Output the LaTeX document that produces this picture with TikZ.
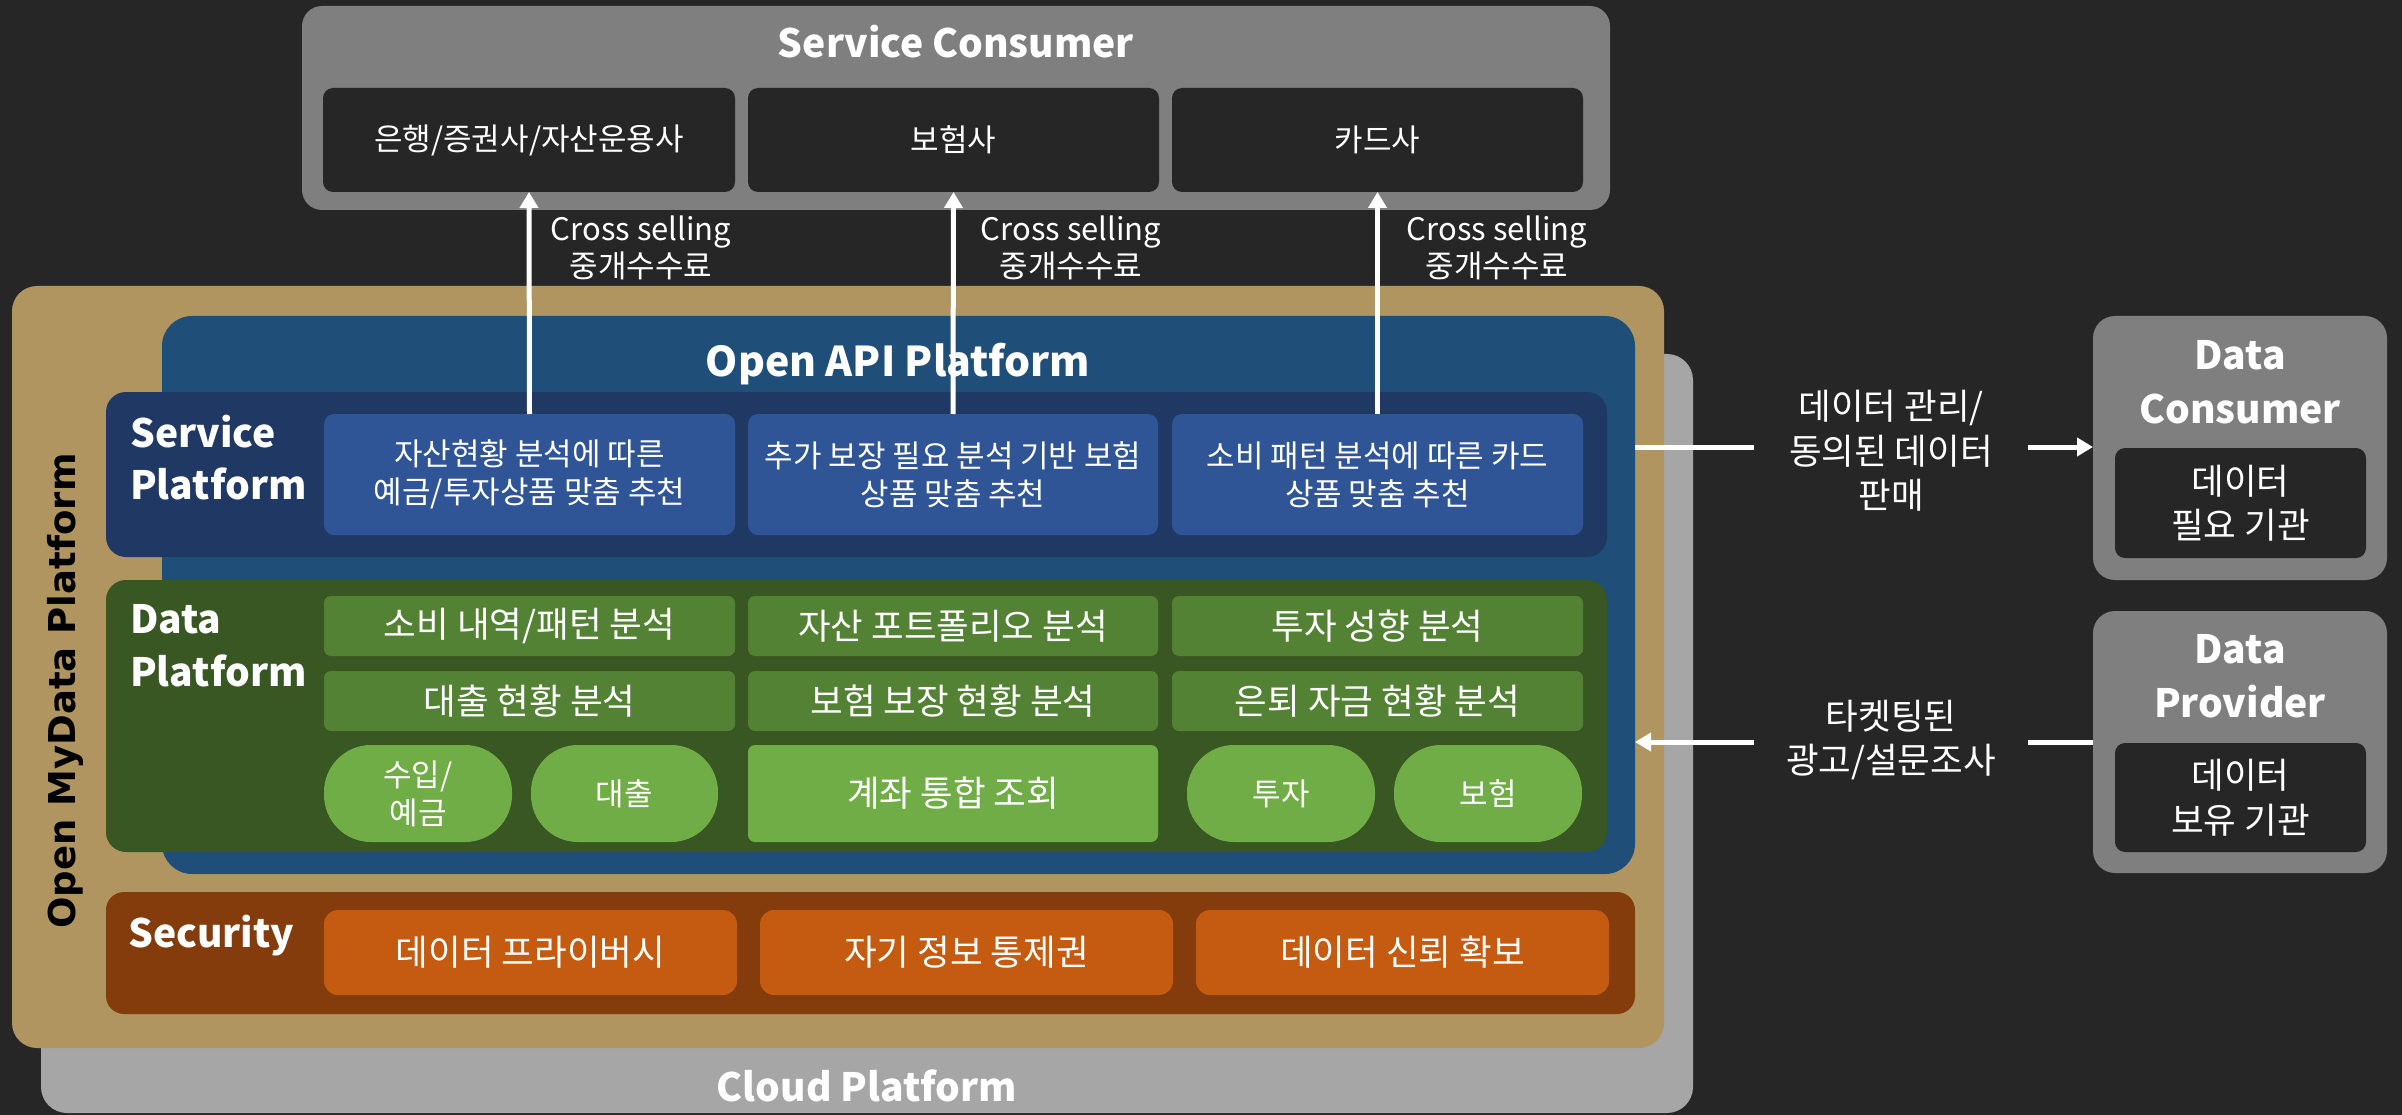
\documentclass[tikz,border=0pt]{standalone}
\usepackage{fontspec}
\setmainfont{Noto Sans CJK KR}
\newfontfamily\vfont{DejaVu Sans}
\usetikzlibrary{fit,arrows.meta}

\definecolor{bg}{HTML}{262626}
\definecolor{grayseven}{HTML}{7F7F7F}
\definecolor{cloudgray}{HTML}{A6A6A6}
\definecolor{gold}{HTML}{B09560}
\definecolor{apiblue}{HTML}{1F4E79}
\definecolor{svcdark}{HTML}{203864}
\definecolor{svcbox}{HTML}{2F5597}
\definecolor{datadark}{HTML}{385723}
\definecolor{datarow}{HTML}{548235}
\definecolor{datapill}{HTML}{70AD47}
\definecolor{secdark}{HTML}{843C0C}
\definecolor{secbox}{HTML}{C55A11}

\tikzset{
  panel/.style={inner sep=0pt, outer sep=0pt, rounded corners=20pt},
  small/.style={text=white, align=center, inner sep=0pt, font=\fontsize{31}{38}\selectfont},
  big/.style={text=white, align=center, inner sep=0pt, font=\fontsize{35.5}{44.5}\selectfont},
  ttl/.style={text=white, font=\bfseries\fontsize{39}{48}\selectfont, inner sep=0pt},
  conn/.style={white, line width=5pt, -{Triangle[width=18pt,length=16pt]}},
  plain/.style={white, line width=5pt},
}

% filled rounded box spanning two corners, with its caption centred on it
% #1 name, #2 fill, #3 corner radius, #4 corners, #5 text style, #6 text
\newcommand\tbox[6]{%
  \node[panel, rounded corners=#3, fill=#2, fit={#4}] (#1) {};
  \node[#5] (#1t) at (#1.center) {#6};}

\begin{document}
\begin{tikzpicture}[x=1pt,y=-1pt]
\fill[bg] (0,0) rectangle (2402,1115);
\useasboundingbox (0,0) rectangle (2402,1115);

% ---- layered platform stack ----
\node[panel, rounded corners=26pt, fill=cloudgray, fit={(41,354) (1693,1113)}] (cloud) {};
\node[ttl, anchor=base] (cloudT) at (867,1101) {Cloud Platform};

\node[panel, rounded corners=25pt, fill=gold, fit={(12,286) (1664,1048)}] (mydata) {};
\node[rotate=90, anchor=base, inner sep=0pt, text=black,
      font=\vfont\bfseries\fontsize{37}{44}\selectfont] (mydataT) at (75,691) {Open MyData Platform};

\node[panel, rounded corners=30pt, fill=apiblue, fit={(162,316) (1635,874)}] (api) {};
\node[ttl, font=\bfseries\fontsize{41}{48}\selectfont, anchor=base] (apiT) at (898,376) {Open API Platform};

% service platform
\node[panel, fill=svcdark, fit={(106,392) (1607,557)}] (svc) {};
\node[ttl, anchor=base west] (svcT1) at (130,447) {Service};
\node[ttl, anchor=base west] (svcT2) at (130,499) {Platform};
\tbox{s1}{svcbox}{10pt}{(324,414) (735,535)}{small}{자산현황 분석에 따른\\예금/투자상품 맞춤 추천}
\tbox{s2}{svcbox}{10pt}{(748,414) (1158,535)}{small}{추가 보장 필요 분석 기반 보험\\상품 맞춤 추천}
\tbox{s3}{svcbox}{10pt}{(1172,414) (1583,535)}{small}{소비 패턴 분석에 따른 카드\\상품 맞춤 추천}

% data platform
\node[panel, fill=datadark, fit={(106,580) (1607,852)}] (data) {};
\node[ttl, anchor=base west] (dataT1) at (130,633) {Data};
\node[ttl, anchor=base west] (dataT2) at (130,686) {Platform};
\tbox{d11}{datarow}{7pt}{(324,596) (735,656)}{big}{소비 내역/패턴 분석}
\tbox{d12}{datarow}{7pt}{(748,596) (1158,656)}{big}{자산 포트폴리오 분석}
\tbox{d13}{datarow}{7pt}{(1172,596) (1583,656)}{big}{투자 성향 분석}
\tbox{d21}{datarow}{7pt}{(324,671) (735,731)}{big}{대출 현황 분석}
\tbox{d22}{datarow}{7pt}{(748,671) (1158,731)}{big}{보험 보장 현황 분석}
\tbox{d23}{datarow}{7pt}{(1172,671) (1583,731)}{big}{은퇴 자금 현황 분석}
\tbox{p1}{datapill}{47pt}{(324,745) (512,842)}{small}{수입/\\예금}
\tbox{p2}{datapill}{47pt}{(531,745) (718,842)}{small}{대출}
\tbox{acct}{datapill}{7pt}{(748,745) (1158,842)}{big}{계좌 통합 조회}
\tbox{p3}{datapill}{47pt}{(1187,745) (1375,842)}{small}{투자}
\tbox{p4}{datapill}{47pt}{(1394,745) (1582,842)}{small}{보험}

% security
\node[panel, rounded corners=18pt, fill=secdark, fit={(106,892) (1635,1014)}] (sec) {};
\node[ttl, anchor=base west] (secT) at (128,947) {Security};
\tbox{e1}{secbox}{14pt}{(324,910) (737,995)}{big}{데이터 프라이버시}
\tbox{e2}{secbox}{14pt}{(760,910) (1173,995)}{big}{자기 정보 통제권}
\tbox{e3}{secbox}{14pt}{(1196,910) (1609,995)}{big}{데이터 신뢰 확보}

% ---- service consumer ----
\node[panel, fill=grayseven, fit={(302,6) (1610,210)}] (sc) {};
\node[ttl, anchor=base] (scT) at (956,58) {Service Consumer};
\tbox{c1}{bg}{10pt}{(323,88) (735,192)}{small}{은행/증권사/자산운용사}
\tbox{c2}{bg}{10pt}{(748,88) (1159,192)}{small}{보험사}
\tbox{c3}{bg}{10pt}{(1172,88) (1583,192)}{small}{카드사}

\draw[conn] (s1.north) -- (c1.south);
\draw[conn] (s2.north) -- (c2.south);
\draw[conn] (s3.north) -- (c3.south);
\node[small, font=\fontsize{31}{37}\selectfont] (x1) at (641,248) {Cross selling\\중개수수료};
\node[small, font=\fontsize{31}{37}\selectfont] (x2) at (1071,248) {Cross selling\\중개수수료};
\node[small, font=\fontsize{31}{37}\selectfont] (x3) at (1497,248) {Cross selling\\중개수수료};

% ---- data consumer / provider ----
\node[panel, rounded corners=22pt, fill=grayseven, fit={(2093,316) (2387,580)}] (dc) {};
\node[ttl, anchor=base] (dcT1) at (2240,370) {Data};
\node[ttl, anchor=base] (dcT2) at (2240,423) {Consumer};
\tbox{dci}{bg}{10pt}{(2115,448) (2366,558)}{big}{데이터\\필요 기관}

\node[panel, rounded corners=22pt, fill=grayseven, fit={(2093,611) (2387,873)}] (dp) {};
\node[ttl, anchor=base] (dpT1) at (2240,663) {Data};
\node[ttl, anchor=base] (dpT2) at (2240,717) {Provider};
\tbox{dpi}{bg}{10pt}{(2115,743) (2366,852)}{big}{데이터\\보유 기관}

% ---- flows to the right-hand parties ----
\node[big] (r1) at (1891,451) {데이터 관리/\\동의된 데이터\\판매};
\coordinate (r1w) at (1754,447);
\coordinate (r1e) at (2028,447);
\draw[plain] (api.east |- r1w) -- (r1w);
\draw[conn] (r1e) -- (dc.west |- r1e);

\node[big] (r2) at (1891,740) {타켓팅된\\광고/설문조사};
\coordinate (r2w) at (1754,742);
\coordinate (r2e) at (2028,742);
\draw[plain] (dp.west |- r2e) -- (r2e);
\draw[conn] (r2w) -- (api.east |- r2w);
\end{tikzpicture}
\end{document}
